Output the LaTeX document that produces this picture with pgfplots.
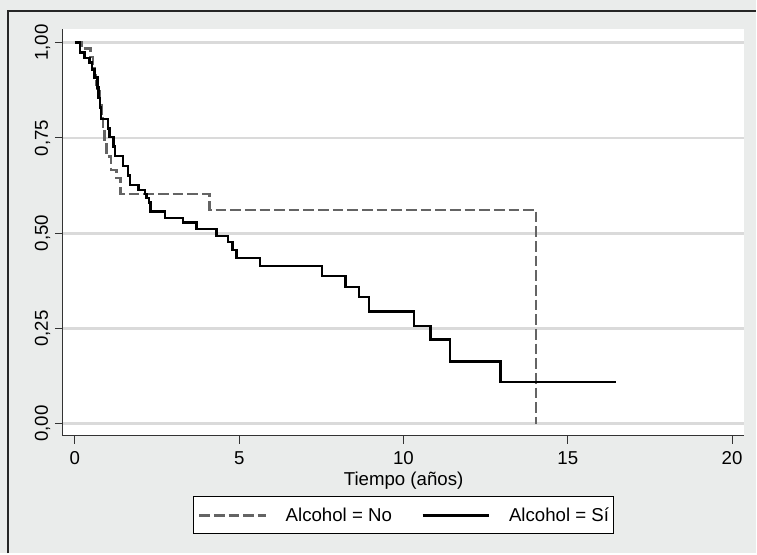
\documentclass[border=0pt]{standalone}
\usepackage{pgfplots}
\pgfplotsset{compat=1.18}
\usepackage{fontspec}
\setmainfont{Liberation Sans}
\definecolor{bgc}{RGB}{234,236,235}
\definecolor{gridc}{RGB}{218,218,218}
\definecolor{nocol}{RGB}{100,100,100}
\begin{document}
\begin{tikzpicture}[x=0.75pt,y=0.75pt,font=\fontsize{14}{16.8}\selectfont]
\fill[bgc] (0,0) rectangle (757,554);
\draw[line width=1.2pt, black!85] (8,0) -- (8,543) -- (757,543);
\begin{axis}[
  at={(47.25pt,88.5pt)}, anchor=south west,
  scale only axis, width=511.5pt, height=305.25pt,
  xmin=-0.365, xmax=20.37, ymin=-0.031, ymax=1.036,
  axis x line*=bottom, axis y line*=left,
  axis line style={draw=black!80, line width=0.75pt, -},
  axis background/.style={fill=white},
  xtick={0,5,10,15,20}, xticklabels={0,5,10,15,20},
  ytick={0,0.25,0.5,0.75,1},
  yticklabels={{0,00},{0,25},{0,50},{0,75},{1,00}},
  tick align=outside, major tick length=6pt,
  tick style={black!80, line width=0.75pt},
  xticklabel style={yshift=-2.5pt},
  yticklabel style={rotate=90, anchor=south, xshift=0pt},
  ymajorgrids, grid style={gridc, line width=2pt},
  xlabel={Tiempo (años)},
  xlabel style={at={(axis description cs:0.5,-0.11)}, anchor=center},
  legend style={at={(0.5,-0.1966)}, anchor=center, draw=black, line width=0.75pt,
    fill=white, legend columns=2, inner xsep=3.5pt, inner ysep=8pt,
    nodes={inner sep=0pt},
    /tikz/every odd column/.append style={column sep=14pt},
    /tikz/every even column/.append style={column sep=22pt}},
  legend image code/.code={\draw[#1] (0pt,0pt) -- (50pt,0pt);},
]
\addplot[const plot, nocol, line width=1.8pt, dash pattern=on 8pt off 3pt] coordinates {
(0,1.0) (0.2,0.985) (0.48,0.962) (0.55,0.94) (0.6,0.915) (0.65,0.89) (0.68,0.872)
(0.76,0.845) (0.81,0.806) (0.85,0.771) (0.9,0.74) (0.96,0.701) (1.1,0.666)
(1.27,0.645) (1.39,0.603) (4.10,0.5616) (14.03,0.0)
};
\addlegendentry{Alcohol = No}
\addplot[const plot, black, line width=1.9pt] coordinates {
(0,1.0) (0.15,0.974) (0.29,0.96) (0.45,0.948) (0.52,0.93) (0.6,0.908) (0.68,0.882)
(0.72,0.855) (0.76,0.83) (0.8,0.80) (1.0,0.775) (1.05,0.752) (1.18,0.727) (1.22,0.703)
(1.47,0.677) (1.62,0.652) (1.67,0.627) (1.93,0.614) (2.13,0.603) (2.18,0.592)
(2.25,0.58) (2.3,0.557) (2.74,0.540) (3.29,0.528) (3.70,0.511) (4.31,0.493)
(4.66,0.477) (4.79,0.456) (4.92,0.435) (5.63,0.414) (7.52,0.388) (8.23,0.359)
(8.64,0.332) (8.95,0.294) (10.32,0.257) (10.83,0.221) (11.41,0.164) (12.95,0.109)
(16.47,0.109)
};
\addlegendentry{Alcohol = Sí}
\end{axis}
\end{tikzpicture}
\end{document}
